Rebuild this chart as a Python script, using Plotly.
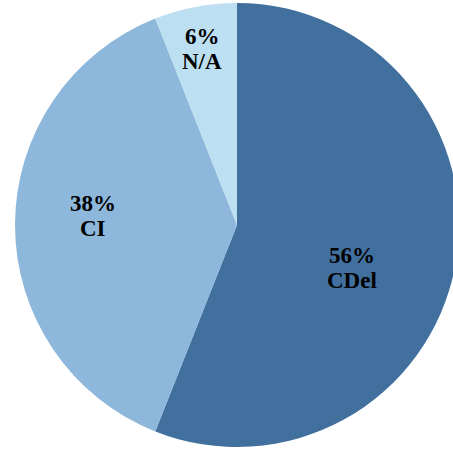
import numpy as np
import plotly.graph_objects as go

# Share of cases by category
labels = ["CDel", "CI", "N/A"]
values = [56, 38, 6]
colors = ["#41709F", "#8DB7DB", "#BCDFF2"]

# Label placement inside each slice: fraction of the radius and a small
# angular nudge (degrees, clockwise) away from the slice bisector
label_radius = [0.554, 0.65, 0.81]
label_nudge = [9.9, 3.6, -0.4]

fig = go.Figure(
    go.Pie(
        labels=labels,
        values=values,
        sort=False,
        direction="clockwise",
        rotation=0,
        marker=dict(colors=colors, line=dict(width=0)),
        textinfo="none",
        hoverinfo="label+percent",
        showlegend=False,
    )
)

# Slice bisector angles, measured clockwise from 12 o'clock
vals = np.asarray(values, dtype=float)
shares = vals / vals.sum()
ends = np.cumsum(shares) * 360.0
mids = ends - shares * 180.0

font = dict(family="Liberation Serif", size=23, color="black")
line_gap = 12.5  # half the pitch between the two text lines, px

for lab, share, mid, rf, nudge in zip(labels, shares, mids, label_radius, label_nudge):
    ang = np.deg2rad(mid + nudge)
    # pie fills the plotting area: center (0.5, 0.5), radius 0.5 in paper units
    x = 0.5 + 0.5 * rf * np.sin(ang)
    y = 0.5 + 0.5 * rf * np.cos(ang)
    for txt, shift in ((f"<b>{share * 100:.0f}%</b>", line_gap), (f"<b>{lab}</b>", -line_gap)):
        fig.add_annotation(
            x=x, y=y, xref="paper", yref="paper",
            text=txt, showarrow=False, font=font,
            xanchor="center", yanchor="middle", yshift=shift,
        )

fig.update_layout(
    width=459,
    height=450,
    margin=dict(l=15, r=0, t=3, b=3),
    paper_bgcolor="white",
    plot_bgcolor="white",
)

fig.write_html("out.html")
